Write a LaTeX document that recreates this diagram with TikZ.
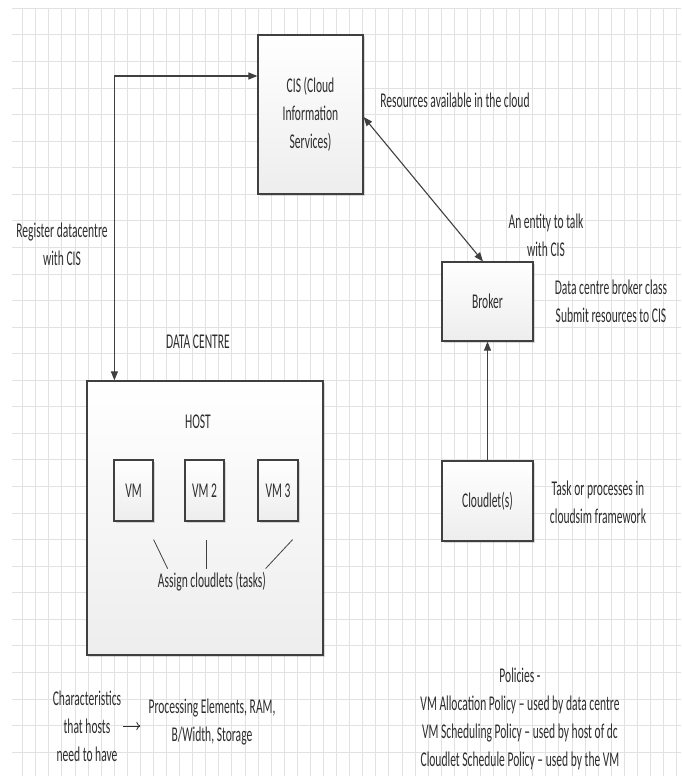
\documentclass[tikz,border=0pt]{standalone}
\usepackage{fontspec}
\setmainfont[FakeStretch=0.55]{Carlito}
\usetikzlibrary{arrows.meta, shadows}
\definecolor{gridcolor}{RGB}{226,226,226}
\definecolor{edgecolor}{RGB}{64,64,64}
\definecolor{textcolor}{RGB}{45,45,45}

\begin{document}
\begin{tikzpicture}[
    x=1pt, y=-1pt,
    font=\fontsize{21}{28}\selectfont,
    box/.style={draw=edgecolor, line width=1.2pt, top color=white, bottom color=gray!14, drop shadow={shadow xshift=1.5pt, shadow yshift=-1.5pt, opacity=0.3}, text=textcolor, align=center, inner sep=0pt},
    note/.style={text=textcolor, align=center, inner sep=0pt},
    link/.style={draw=edgecolor, line width=1.1pt},
    tip/.style={-{Triangle[length=9pt, width=7pt]}},
    bitip/.style={{Triangle[length=9pt, width=7pt]}-{Triangle[length=9pt, width=7pt]}}
]
    \useasboundingbox (0,0) rectangle (681,776);

    % Grid
    \foreach \i in {0,...,50}
        \draw[gridcolor, line width=1pt] ({22.7+13.08*\i},8.3) -- ({22.7+13.08*\i},776);
    \foreach \j in {0,...,28}
        \draw[gridcolor, line width=1pt] (12,{8.3+26.57*\j}) -- (681,{8.3+26.57*\j});

    % CIS and broker
    \node[box, minimum width=105pt, minimum height=159pt] (cis) at (310.5,114.5) {CIS (Cloud\\Information\\Services)};
    \node[note] (resources) at (455,100) {Resources available in the cloud};
    \node[note] (entity) at (546,235) {An entity to talk\\with CIS};
    \node[box, minimum width=91pt, minimum height=79pt] (broker) at (487.5,301.5) {Broker};
    \node[note] (brokerinfo) at (611,301) {Data centre broker class\\Submit resources to CIS};
    \node[box, minimum width=91pt, minimum height=80pt] (cloudlet) at (487.5,501) {Cloudlet(s)};
    \node[note] (cloudletinfo) at (598,502) {Task or processes in\\cloudsim framework};

    % Data centre
    \node[note] (register) at (62,244) {Register datacentre\\with CIS};
    \node[note] (dclabel) at (198,342) {DATA CENTRE};
    \node[box, minimum width=236pt, minimum height=274pt] (dc) at (205,518) {};
    \node[note] (host) at (198,422) {HOST};
    \node[box, minimum width=39pt, minimum height=61pt] (vmone) at (133.5,490.5) {VM};
    \node[box, minimum width=39pt, minimum height=61pt] (vmtwo) at (204.5,490.5) {VM 2};
    \node[box, minimum width=40pt, minimum height=61pt] (vmthree) at (278,490.5) {VM 3};
    \node[note] (assign) at (212,582) {Assign cloudlets (tasks)};

    % Bottom notes
    \node[note] (chars) at (87,726) {Characteristics\\that hosts\\need to have};
    \node[note] (elements) at (212,722) {Processing Elements, RAM,\\B/Width, Storage};
    \node[note] (policies) at (520,719) {Policies -\\VM Allocation Policy -- used by data centre\\VM Scheduling Policy --  used by host of dc\\Cloudlet Schedule Policy --  used by the VM};

    % Connectors
    \draw[link, bitip] ([xshift=28pt]dc.north west) |- ([yshift=38.5pt]cis.west);
    \draw[link, bitip] ([yshift=-2.5pt]cis.east) -- ([xshift=-4.5pt]broker.north);
    \draw[link, tip] (cloudlet.north) -- (broker.south);
    \draw[edgecolor, line width=0.8pt] ([yshift=-18pt]vmone.south east) -- ++(14,29);
    \draw[edgecolor, line width=0.8pt] ([yshift=-18pt]vmtwo.south -| 206,0) -- ++(0,29);
    \draw[edgecolor, line width=0.8pt] ([xshift=-6pt, yshift=-18pt]vmthree.south east) -- ++(-27,29);
    \draw[textcolor, line width=0.8pt, -{To[length=4pt]}, shorten <=2pt, shorten >=8pt] (chars.east) -- (chars.east -| elements.west);
\end{tikzpicture}
\end{document}
